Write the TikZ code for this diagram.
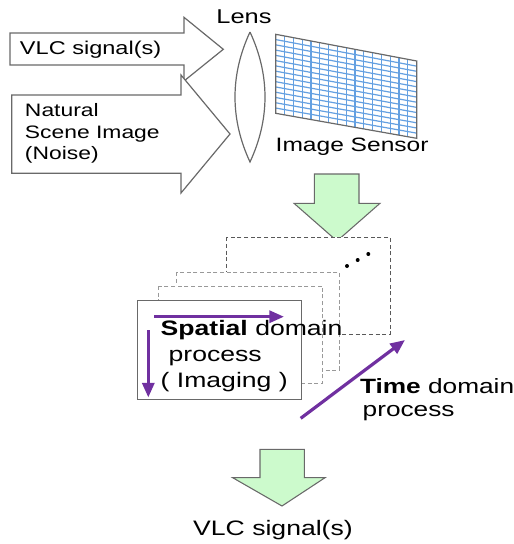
\documentclass[tikz,border=0pt]{standalone}
\usepackage{fontspec}
\setmainfont[FakeStretch=1.27]{Liberation Sans}
\usetikzlibrary{calc,arrows.meta}
\definecolor{outl}{RGB}{105,105,105}
\definecolor{gridblue}{RGB}{100,160,225}
\definecolor{lgreen}{RGB}{204,250,204}
\definecolor{vlcpurple}{RGB}{112,48,160}
\tikzset{
  blockarrow/.style={draw=outl, line width=0.9pt, fill=white, line join=miter},
  greenarrow/.style={draw=outl, line width=0.8pt, fill=lgreen, line join=miter},
  lbl/.style={inner sep=0pt, outer sep=0pt, text=black},
  frameback/.style={draw=gray!80, line width=0.6pt, fill=white, dash pattern=on 3pt off 2pt},
  framedark/.style={draw=black!65, line width=0.6pt, fill=white, dash pattern=on 3pt off 2pt},
  purplearrow/.style={draw=vlcpurple, line width=2.4pt, -{Triangle[length=11pt,width=9pt]}}
}
\begin{document}
\begin{tikzpicture}[x=0.75pt,y=-0.75pt]
\useasboundingbox (0,0) rectangle (514,544);

% input block arrows
\draw[blockarrow] (10,33) -- (184,33) -- (184,17.3) -- (223.3,49.3) -- (184,81) -- (184,65) -- (10,65) -- cycle;
\draw[blockarrow] (11.7,95) -- (181,95) -- (181,75) -- (230,134) -- (181,193) -- (181,173.3) -- (11.7,173.3) -- cycle;
\node[lbl, anchor=west, font=\fontsize{13.9}{16}\selectfont] (vlcin) at (20,49.5) {VLC signal(s)};
\node[lbl, anchor=west, align=left, font=\fontsize{13.5}{16.2}\selectfont] (nat) at (25,133.5) {Natural\\Scene Image\\(Noise)};

% lens
\draw[draw=outl, line width=0.9pt, fill=white] (250,32) .. controls (230,75) and (230,119) .. (250,162) .. controls (270,119) and (270,75) .. (250,32);
\node[lbl, font=\fontsize{15}{18}\selectfont] (lens) at (244,17) {Lens};

% image sensor
\coordinate (TL) at (275.7,34.3);
\coordinate (TR) at (416.7,61);
\coordinate (BR) at (416.7,138.3);
\coordinate (BL) at (275.7,113.3);
\fill[white] (TL) -- (TR) -- (BR) -- (BL) -- cycle;
\foreach \i in {1,...,15} {
  \draw[gridblue, line width=0.9pt] ($(TL)!\i/16!(TR)$) -- ($(BL)!\i/16!(BR)$);
}
\foreach \j in {1,...,14} {
  \draw[gridblue, line width=0.9pt] ($(TL)!\j/15!(BL)$) -- ($(TR)!\j/15!(BR)$);
}
\draw[draw=outl, line width=0.9pt] (TL) -- (TR) -- (BR) -- (BL) -- cycle;
\node[lbl, anchor=west, font=\fontsize{14.5}{17}\selectfont] (sensor) at (275.7,147) {Image\ Sensor};

% green arrow 1
\draw[greenarrow] (314.3,174) -- (359,174) -- (359,203.3) -- (380,203.3) -- (337,241) -- (294,203.3) -- (314.3,203.3) -- cycle;

% frames
\draw[framedark] (226,237.3) rectangle (390,334.3);
\draw[frameback] (176.7,272.3) rectangle (339.3,370);
\draw[frameback] (158.3,286) rectangle (322.7,383.3);
\draw[draw=outl, line width=0.8pt, fill=white] (137.3,300.7) rectangle (301.7,399.3);
\foreach \p in {(347,266),(357.7,260),(368.3,254)} {
  \fill[black] \p circle (2);
}

% purple arrows
\draw[purplearrow] (154,316.7) -- (284,316.7);
\draw[purplearrow] (148.3,330) -- (148.3,397.5);
\draw[purplearrow] (300.7,418.3) -- (405,340);

\node[lbl, anchor=west, align=left, font=\fontsize{15.7}{19.5}\selectfont] (spatial) at (160.7,356) {\textbf{Spatial} domain\\\hspace{6pt}process\\( Imaging )};
\node[lbl, anchor=west, align=left, font=\fontsize{15.5}{17.3}\selectfont] (time) at (360,399.5) {\textbf{Time} domain\\\hspace{2pt}process};

% green arrow 2
\draw[greenarrow] (260,449.3) -- (304.3,449.3) -- (304.3,477.7) -- (325,477.7) -- (282,506) -- (232.7,477.7) -- (260,477.7) -- cycle;
\node[lbl, font=\fontsize{15.7}{19}\selectfont] (vlcout) at (273,530) {VLC signal(s)};
\end{tikzpicture}
\end{document}
